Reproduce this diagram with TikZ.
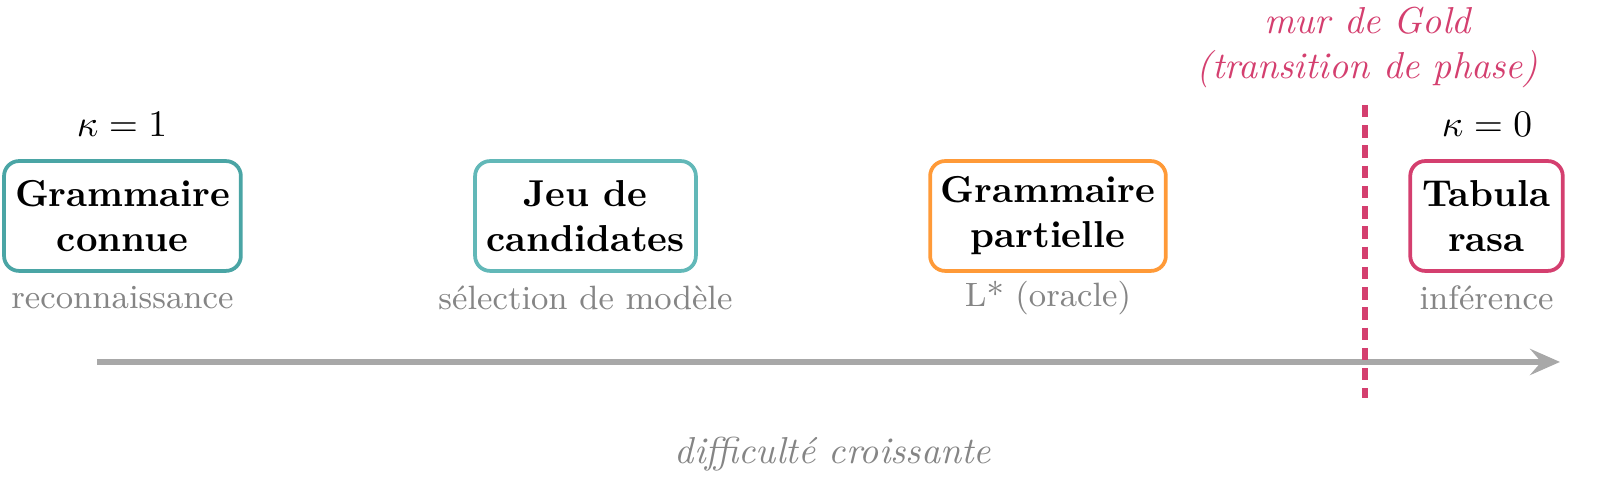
\documentclass[tikz,border=0pt]{standalone}
\usepackage{amsmath}
\usepackage{xcolor}
\usetikzlibrary{arrows.meta,positioning}

\definecolor{tealA}{HTML}{4AA5A5}
\definecolor{tealB}{HTML}{62B8B8}
\definecolor{orangeC}{HTML}{FF9A38}
\definecolor{roseD}{HTML}{D43F6F}
\definecolor{grisT}{HTML}{858585}
\definecolor{grisF}{HTML}{A8A8A8}

\tikzset{
  etape/.style={draw=#1, line width=1pt, rounded corners=4pt, align=center,
    font=\bfseries, minimum height=1.03cm, inner sep=2pt},
  soustitre/.style={text=grisT, font=\small},
}

\begin{document}
\begin{tikzpicture}
    \useasboundingbox (0, 0) rectangle (15, 4.631);

    \node[etape=tealA, minimum width=2.22cm] (connue) at (1.148, 2.606) {Grammaire\\connue};
    \node[etape=tealB, minimum width=2.07cm] (jeu) at (5.489, 2.606) {Jeu de\\candidates};
    \node[etape=orangeC, minimum width=2.21cm] (partielle) at (9.825, 2.606) {Grammaire\\partielle};
    \node[etape=roseD, minimum width=1.43cm] (tabula) at (13.936, 2.606) {Tabula\\rasa};

    \node[soustitre] (reco) at (1.148, 1.84) {reconnaissance};
    \node[soustitre] (selec) at (5.489, 1.84) {sélection de modèle};
    \node[soustitre] (oracle) at (9.825, 1.84) {L* (oracle)};
    \node[soustitre] (infer) at (13.936, 1.84) {inférence};

    \node (kun) at (1.144, 3.46) {$\kappa = 1$};
    \node (kzero) at (13.94, 3.46) {$\kappa = 0$};

    % axe des difficultes
    \coordinate (debut) at (0.909, 1.2375);
    \coordinate (fin) at (14.625, 1.2375);
    \draw[grisF, line width=1.6pt, -{Stealth[length=8pt,width=7pt,inset=3pt]}] (debut) -- (fin);
    \node[text=grisT, font=\itshape] (diff) at (7.81, 0.37) {difficulté croissante};

    % mur de Gold
    \coordinate (murhaut) at (12.797, 3.647);
    \coordinate (murbas) at (12.797, 0.9);
    \draw[roseD, line width=1.5pt, dash pattern=on 3.3pt off 2.1pt] (murhaut) -- (murbas);
    \node[text=roseD, font=\itshape, align=center] (gold) at (12.82, 4.19) {mur de Gold\\(transition de phase)};
\end{tikzpicture}
\end{document}
